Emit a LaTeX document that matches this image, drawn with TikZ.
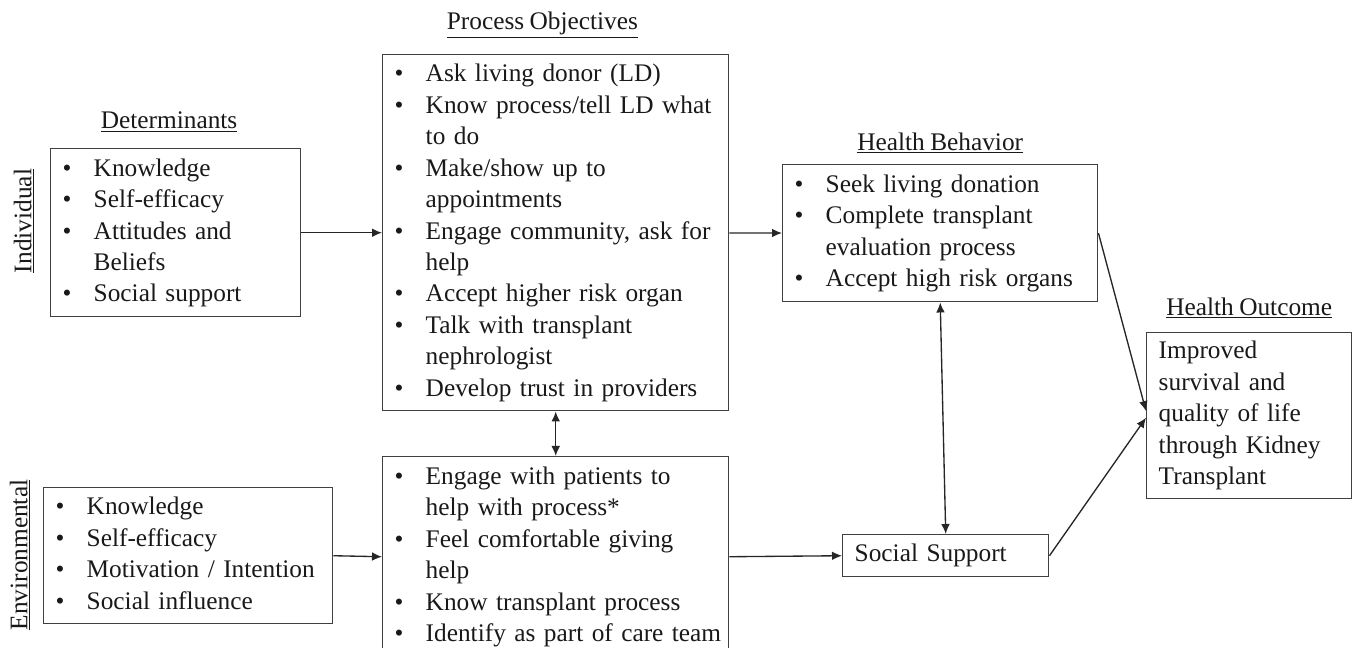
\documentclass[tikz,border=0pt]{standalone}
\usepackage{fontspec}
\setmainfont{Liberation Serif}[WordSpace=0.85]
\usetikzlibrary{positioning,arrows.meta}
\newcommand{\blist}[1]{\begin{tabular}{@{}p{23.25pt}@{}l@{}}#1\end{tabular}}
\newcommand{\blt}{\textbullet &}
\begin{document}
\begin{tikzpicture}[x=0.75pt,y=-0.75pt,node distance=12pt,
	every node/.style={font=\fontsize{19}{23.6}\selectfont,text=black!90},
	box/.style={draw=black!75,line width=1.1pt,anchor=north west,inner xsep=9pt,inner ysep=0pt,align=left},
	ttl/.style={inner sep=0pt},
	arr/.style={-{Latex[length=7.5pt,width=6.5pt]},line width=1pt,draw=black!85},
	dbl/.style={{Latex[length=7.5pt,width=6.5pt]}-{Latex[length=7.5pt,width=6.5pt]},line width=1pt,draw=black!85}]
	\useasboundingbox (0,0) rectangle (1354,648);
	\node[box,text width=169.5pt,minimum height=126pt] (D1) at (50,148) {\blist{\blt Knowledge\\ \blt Self-efficacy\\ \blt Attitudes and\\ & Beliefs\\ \blt Social support}};
	\node[box,text width=198.75pt,minimum height=102pt] (D2) at (43,487) {\blist{\blt Knowledge\\ \blt Self-efficacy\\ \blt Motivation / Intention\\ \blt Social influence}};
	\node[box,text width=241.5pt,minimum height=267pt] (P1) at (382,54) {\blist{\blt Ask living donor (LD)\\ \blt Know process/tell LD what\\ & to do\\ \blt Make/show up to\\ & appointments\\ \blt Engage community, ask for\\ & help\\ \blt Accept higher risk organ\\ \blt Talk with transplant\\ & nephrologist\\ \blt Develop trust in providers}};
	\node[box,text width=241.5pt,minimum height=150pt] (P2) at (382,456) {\blist{\blt Engage with patients to\\ & help with process*\\ \blt Feel comfortable giving\\ & help\\ \blt Know transplant process\\ \blt Identify as part of care team}};
	\node[box,text width=218.25pt,minimum height=102.75pt] (HB) at (782,164) {\blist{\blt Seek living donation\\ \blt Complete transplant\\ & evaluation process\\ \blt Accept high risk organs}};
	\node[box,text width=136.5pt,minimum height=31.5pt] (SS) at (842,534) {Social Support};
	\node[box,text width=135.75pt,minimum height=124.5pt] (HO) at (1146,332) {Improved\\survival and\\quality of life\\through Kidney\\Transplant};
	\node[ttl,above=12pt of D1,xshift=-5pt] (tD) {\underline{Determinants}};
	\node[ttl,above=12pt of P1,xshift=-10pt] (tP) {\underline{Process Objectives}};
	\node[ttl,above=8pt of HB] (tHB) {\underline{Health Behavior}};
	\node[ttl,above=10pt of HO] (tHO) {\underline{Health Outcome}};
	\node[ttl,rotate=90] (ind) at (24,221) {\underline{Individual}};
	\node[ttl,rotate=90] (env) at (20,555) {\underline{Environmental}};
	\draw[arr] (D1) -- (P1);
	\draw[arr] (D2.east) -- (P2.west);
	\draw[dbl] (P1.south) -- (P2.north);
	\draw[arr] (P1) -- (HB);
	\draw[arr] (P2.east) -- (SS.west);
	\draw[dbl] (HB.south) -- (SS.north);
	\draw[arr] (HB.east) -- ([yshift=3.5pt]HO.west);
	\draw[arr] (SS.east) -- ([yshift=-1.5pt]HO.west);
\end{tikzpicture}
\end{document}
